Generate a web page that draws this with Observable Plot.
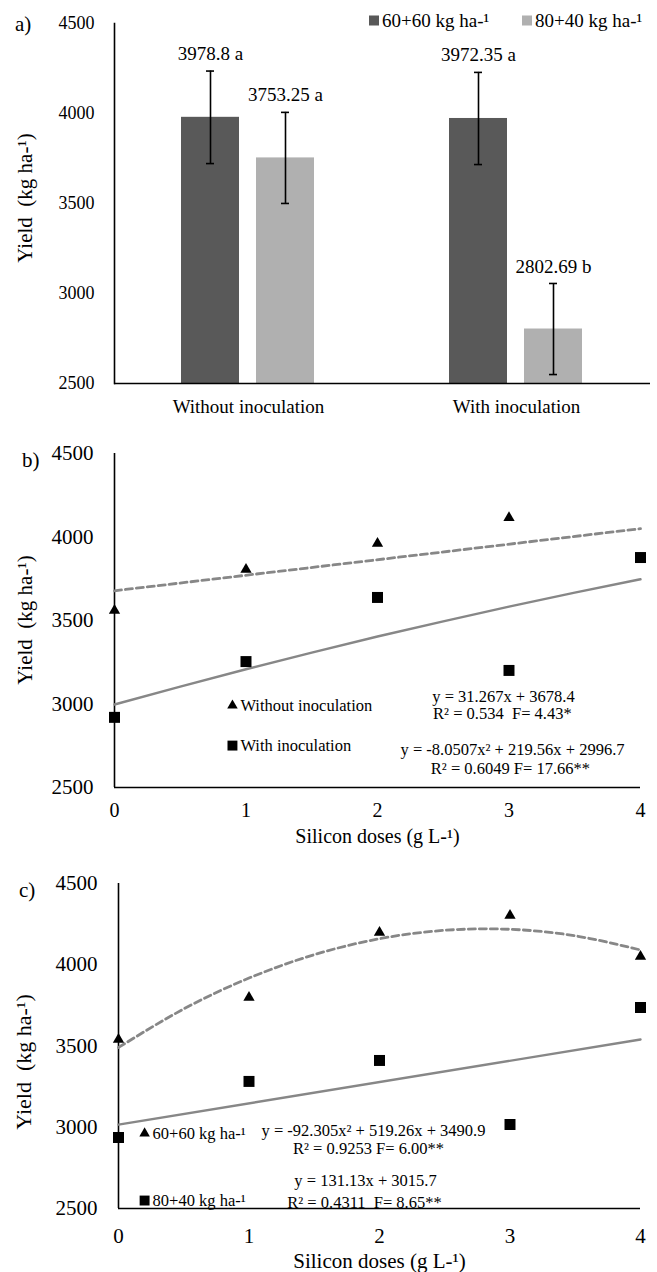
<!DOCTYPE html>
<html>
<head>
<meta charset="utf-8">
<script src="https://cdn.jsdelivr.net/npm/d3@7"></script>
<script src="https://cdn.jsdelivr.net/npm/@observablehq/plot@0.6"></script>
<style>
  body { margin: 0; background: #fff; }
  #wrap { position: relative; width: 657px; height: 1272px; overflow: hidden; background: #fff;
          font-family: "Liberation Serif", "Times New Roman", serif; color: #000; }
  .lbl { position: absolute; white-space: pre; line-height: 1; }
  .sw { display: inline-block; width: 10px; height: 10px; margin-right: 3px; vertical-align: 1px; }
</style>
</head>
<body>
<div id="wrap"></div>
<script>
// ---------- data ----------
const groups = ["Without inoculation", "With inoculation"];
const doses = ["60+60 kg ha-¹", "80+40 kg ha-¹"];
const doseColors = ["#595959", "#b0b0b0"];
const yieldA6060 = [3978.8, 3972.35];
const yieldA8040 = [3753.25, 2802.69];
const errA6060 = [257, 256];
const errA8040 = [253, 253];
const letterA6060 = ["a", "a"];
const letterA8040 = ["a", "b"];

const yTicks = [2500, 3000, 3500, 4000, 4500];
const xTicks = [0, 1, 2, 3, 4];
const siDoses = [0, 1, 2, 3, 4];

// panel b
const yieldBWithout = [3560, 3805, 3961, 4115, 3870];
const yieldBWith = [2920, 3254, 3638, 3201, 3877];
const trendEnds = [0, 4];
const trendBWithout = [3678, 4050];
const trendX = [0, 0.5, 1, 1.5, 2, 2.5, 3, 3.5, 4];
const trendBWith = [2997, 3104, 3208, 3308, 3404, 3495, 3583, 3667, 3747];

// panel c
const yieldC6060 = [3540, 3798, 4198, 4303, 4051];
const yieldC8040 = [2937, 3282, 3411, 3017, 3737];
const trendC6060 = [3491, 3728, 3918, 4062, 4160, 4212, 4218, 4178, 4091];
const trendC8040 = [3016, 3540];

const yTitle = "Yield\u00a0 (kg ha-¹)";
const xTitle = "Silicon doses (g L-¹)";
const eqB = ["y = 31.267x + 3678.4", "R² = 0.534\u00a0 F= 4.43*",
             "y = -8.0507x² + 219.56x + 2996.7", "R² = 0.6049 F= 17.66**"];
const eqC = ["y = -92.305x² + 519.26x + 3490.9", "R² = 0.9253 F= 6.00**",
             "y = 131.13x + 3015.7", "R² = 0.4311\u00a0 F= 8.65**"];

// ---------- helpers ----------
const serif = '"Liberation Serif", "Times New Roman", serif';
const wrap = document.getElementById("wrap");
function place(svg, top) {
  svg.style.position = "absolute"; svg.style.left = "0px"; svg.style.top = top + "px";
  wrap.appendChild(svg);
}
function html(text, x, y, size, transform) {
  const d = document.createElement("div");
  d.className = "lbl"; d.textContent = text;
  d.style.left = x + "px"; d.style.top = y + "px"; d.style.fontSize = size + "px";
  d.style.transform = transform || "translateY(-50%)";
  wrap.appendChild(d); return d;
}
const pts = (xs, ys) => xs.map((x, i) => ({x, y: ys[i]}));
const gray = "#878787";

// ---------- panel a ----------
const tableA = groups.flatMap((g, i) => [
  {group: g, dose: doses[0], value: yieldA6060[i], err: errA6060[i], letter: letterA6060[i]},
  {group: g, dose: doses[1], value: yieldA8040[i], err: errA8040[i], letter: letterA8040[i]}
]);
const plotA = Plot.plot({
  width: 657, height: 425,
  marginLeft: 113, marginRight: 7, marginTop: 23, marginBottom: 42,
  style: {fontFamily: serif, color: "#000", background: "transparent", overflow: "visible"},
  fx: {domain: groups, padding: 0},
  x: {domain: doses, paddingInner: 0.224, paddingOuter: 0.878, axis: null},
  y: {domain: [2500, 4500]},
  color: {domain: doses, range: doseColors},
  marks: [
    Plot.axisY({ticks: yTicks, tickSize: 0, tickPadding: 20, tickFormat: "d", fontSize: 18, label: null}),
    Plot.axisFx({anchor: "bottom", tickSize: 0, tickPadding: 16, fontSize: 19, label: null}),
    Plot.barY(tableA, {fx: "group", x: "dose", y1: 2500, y2: "value", fill: "dose"}),
    Plot.ruleX(tableA, {fx: "group", x: "dose", y1: d => d.value - d.err, y2: d => d.value + d.err, stroke: "#000", strokeWidth: 1.6}),
    Plot.tickY(tableA, {fx: "group", x: "dose", y: d => d.value + d.err, insetLeft: 25, insetRight: 25, stroke: "#000", strokeWidth: 1.6}),
    Plot.tickY(tableA, {fx: "group", x: "dose", y: d => d.value - d.err, insetLeft: 25, insetRight: 25, stroke: "#000", strokeWidth: 1.6}),
    Plot.text(tableA, {fx: "group", x: "dose", y: d => d.value + d.err, text: d => `${d.value} ${d.letter}`, dy: -17, fontSize: 19, lineAnchor: "middle", fill: "#000"}),
    Plot.ruleY([2500], {stroke: "#000", strokeWidth: 1.6}),
    Plot.frame({anchor: "left", facetAnchor: "left", stroke: "#000", strokeWidth: 1.6})
  ]
});
place(plotA, 0);

// ---------- panel b ----------
const plotB = Plot.plot({
  width: 657, height: 420,
  marginLeft: 114, marginRight: 17, marginTop: 28, marginBottom: 58,
  style: {fontFamily: serif, color: "#000", background: "transparent", overflow: "visible"},
  x: {domain: [0, 4]},
  y: {domain: [2500, 4500]},
  marks: [
    Plot.axisY({ticks: yTicks, tickSize: 0, tickPadding: 21, tickFormat: "d", fontSize: 21, label: null}),
    Plot.axisX({ticks: xTicks, tickSize: 0, tickPadding: 15, tickFormat: "d", fontSize: 20, label: null}),
    Plot.ruleX([0], {stroke: "#000", strokeWidth: 1.6}),
    Plot.ruleY([2500], {stroke: "#000", strokeWidth: 1.6}),
    Plot.line(pts(trendEnds, trendBWithout), {x: "x", y: "y", stroke: gray, strokeWidth: 2.8, strokeDasharray: "7,4"}),
    Plot.line(pts(trendX, trendBWith), {x: "x", y: "y", stroke: gray, strokeWidth: 2.4, curve: "natural"}),
    Plot.dot(pts(siDoses, yieldBWithout), {x: "x", y: "y", symbol: "triangle", r: 4.2, fill: "#000", stroke: "none"}),
    Plot.dot(pts(siDoses, yieldBWith), {x: "x", y: "y", symbol: "square", r: 6.2, fill: "#000", stroke: "none"}),
    Plot.dot([groups[0]], {x: 0.897, y: 2991, symbol: "triangle", r: 3.9, fill: "#000", stroke: "none"}),
    Plot.dot([groups[1]], {x: 0.897, y: 2751, symbol: "square", r: 5.6, fill: "#000", stroke: "none"}),
    Plot.text([groups[0]], {x: 0.897, y: 2991, dx: 8, textAnchor: "start", fontSize: 16.5, fill: "#000"}),
    Plot.text([groups[1]], {x: 0.897, y: 2751, dx: 8, textAnchor: "start", fontSize: 16.5, fill: "#000"}),
    Plot.text([eqB[0]], {x: 2.958, y: 3045, fontSize: 16.5, fill: "#000"}),
    Plot.text([eqB[1]], {x: 2.95, y: 2943, fontSize: 16.5, fill: "#000"}),
    Plot.text([eqB[2]], {x: 3.027, y: 2728, fontSize: 16.5, fill: "#000"}),
    Plot.text([eqB[3]], {x: 3.011, y: 2614, fontSize: 16.5, fill: "#000"}),
    Plot.text([xTitle], {frameAnchor: "bottom", dy: 49, lineAnchor: "middle", fontSize: 20, fill: "#000"})
  ]
});
place(plotB, 425);

// ---------- panel c ----------
const plotC = Plot.plot({
  width: 657, height: 427,
  marginLeft: 118, marginRight: 17, marginTop: 38, marginBottom: 64,
  style: {fontFamily: serif, color: "#000", background: "transparent", overflow: "visible"},
  x: {domain: [0, 4]},
  y: {domain: [2500, 4500]},
  marks: [
    Plot.axisY({ticks: yTicks, tickSize: 0, tickPadding: 21, tickFormat: "d", fontSize: 21, label: null}),
    Plot.axisX({ticks: xTicks, tickSize: 0, tickPadding: 20, tickFormat: "d", fontSize: 21, label: null}),
    Plot.ruleX([0], {stroke: "#000", strokeWidth: 1.6}),
    Plot.ruleY([2500], {stroke: "#000", strokeWidth: 1.6}),
    Plot.line(pts(trendX, trendC6060), {x: "x", y: "y", stroke: gray, strokeWidth: 2.8, strokeDasharray: "7,4", curve: "natural"}),
    Plot.line(pts(trendEnds, trendC8040), {x: "x", y: "y", stroke: gray, strokeWidth: 2.4}),
    Plot.dot(pts(siDoses, yieldC6060), {x: "x", y: "y", symbol: "triangle", r: 4.2, fill: "#000", stroke: "none"}),
    Plot.dot(pts(siDoses, yieldC8040), {x: "x", y: "y", symbol: "square", r: 6.2, fill: "#000", stroke: "none"}),
    Plot.dot([doses[0]], {x: 0.2, y: 2962, symbol: "triangle", r: 3.9, fill: "#000", stroke: "none"}),
    Plot.dot([doses[1]], {x: 0.2, y: 2549, symbol: "square", r: 5.6, fill: "#000", stroke: "none"}),
    Plot.text([doses[0]], {x: 0.2, y: 2962, dx: 8, textAnchor: "start", fontSize: 16.5, fill: "#000"}),
    Plot.text([doses[1]], {x: 0.2, y: 2549, dx: 8, textAnchor: "start", fontSize: 16.5, fill: "#000"}),
    Plot.text([eqC[0]], {x: 1.954, y: 2980, fontSize: 16.5, fill: "#000"}),
    Plot.text([eqC[1]], {x: 1.916, y: 2869, fontSize: 16.5, fill: "#000"}),
    Plot.text([eqC[2]], {x: 1.893, y: 2672, fontSize: 16.5, fill: "#000"}),
    Plot.text([eqC[3]], {x: 1.885, y: 2537, fontSize: 16.5, fill: "#000"}),
    Plot.text([xTitle], {frameAnchor: "bottom", dy: 53, lineAnchor: "middle", fontSize: 21, fill: "#000"})
  ]
});
place(plotC, 845);

// ---------- html annotations ----------
html("a)", 15, 24, 21);
html("b)", 22, 460, 21);
html("c)", 19, 890, 21);
html(yTitle, 25, 198, 21, "translate(-50%,-50%) rotate(-90deg)");
html(yTitle, 25, 620, 21, "translate(-50%,-50%) rotate(-90deg)");
html(yTitle, 24, 1062, 22, "translate(-50%,-50%) rotate(-90deg)");
// panel a legend
const legX = [369, 522];
doses.forEach((d, i) => {
  const el = html("", legX[i], 20, 19);
  const sw = document.createElement("span");
  sw.className = "sw"; sw.style.background = doseColors[i];
  el.appendChild(sw);
  el.appendChild(document.createTextNode(d));
});
</script>
</body>
</html>
